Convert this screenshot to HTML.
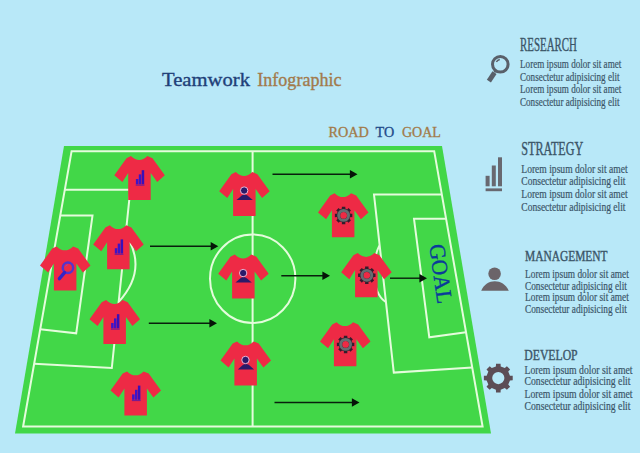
<!DOCTYPE html><html><head><meta charset="utf-8"><style>html,body{margin:0;padding:0;background:#b8e8f8;}svg{display:block}text{font-family:"Liberation Serif",serif}</style></head><body>
<svg width="640" height="453" viewBox="0 0 640 453">
<defs>
<path id="sh" fill="#ee2a45" d="M16.6 0.2Q24.9 8 33.1 0.2L38.2 2.4L50.5 19.4L42.9 26.3L36.4 17.2V44.3H13.9V17.2L8.1 26.3L0 19.4L12.2 2.4Z"/>
<g id="ib"><rect x="21.6" y="23.2" width="2.5" height="5.4" fill="#3d14c8"/><rect x="24.5" y="18.6" width="2.5" height="10" fill="#3d14c8"/><rect x="27.4" y="14.4" width="2.5" height="14.2" fill="#3a10b8"/><rect x="21.4" y="28.8" width="8.8" height="1.1" fill="#7a1a90"/></g>
<g id="im" fill="none"><circle cx="27.95" cy="21.55" r="5.2" stroke-width="2.5" stroke="#5434cc"/><path d="M24.5 26.4L19.4 32.4" stroke-width="3.4" stroke-linecap="round" stroke="#3424c4"/><path d="M25.6 20.2A3 3 0 0 1 27.6 18.6" stroke="#7a50e0" stroke-width="0.8"/></g>
<g id="ip"><path d="M17.3 28.2L22.6 23.6Q25.3 21.8 28.2 23.6L33.6 28.2Z" fill="#2a1a6a"/><circle cx="24.95" cy="18.75" r="3.7" fill="#2a1a6a" stroke="#f6bcd8" stroke-width="0.95"/></g>
<g id="ig"><path d="M32.39 20.71L34.33 20.66L34.33 24.14L32.39 24.09L31.60 26.01L33.00 27.34L30.54 29.80L29.21 28.40L27.29 29.19L27.34 31.13L23.86 31.13L23.91 29.19L21.99 28.40L20.66 29.80L18.20 27.34L19.60 26.01L18.81 24.09L16.87 24.14L16.87 20.66L18.81 20.71L19.60 18.79L18.20 17.46L20.66 15.00L21.99 16.40L23.91 15.61L23.86 13.67L27.34 13.67L27.29 15.61L29.21 16.40L30.54 15.00L33.00 17.46L31.60 18.79ZM29.0 22.4A3.4 3.4 0 1 0 22.200000000000003 22.4A3.4 3.4 0 1 0 29.0 22.4Z" fill="#341c2c" fill-rule="evenodd"/><circle cx="25.6" cy="22.4" r="4.95" fill="none" stroke="#666c70" stroke-width="2.9"/></g>
</defs>
<rect width="640" height="453" fill="#b8e8f8"/>
<path d="M64 146H442L491 433.5H15Z" fill="#42d748"/>
<g fill="none" stroke="#e4fcdc" stroke-width="2" stroke-linejoin="miter">
<path d="M71.6 151.2H434.2L482.6 426.5H23.1Z"/>
<path d="M252.6 151.2V426.5"/>
<ellipse cx="252.7" cy="278.7" rx="42.7" ry="44.2"/>
<path d="M64.8 189.8H130.3L111.8 368L34.2 363.8"/>
<path d="M60.3 215.6H92.5L76.2 333.3L40.2 329.3"/>
<path d="M129 240Q146 272 118.5 302"/>
<path d="M441.8 194.6H374L393.8 372.6L472.2 367.5"/>
<path d="M446.1 218.8H414L429.3 337.3L466 332.3"/>
<path d="M379.3 245.6C373 258 370 291 385.3 301.8"/>
</g>
<path d="M150 246.2H213.3" stroke="#08200c" stroke-width="1.4" fill="none"/><path d="M218.3 246.2L210.70000000000002 242.0V250.39999999999998Z" fill="#061408"/>
<path d="M148.8 323.3H212" stroke="#08200c" stroke-width="1.4" fill="none"/><path d="M217 323.3L209.4 319.1V327.5Z" fill="#061408"/>
<path d="M272.5 174.2H352.5" stroke="#08200c" stroke-width="1.4" fill="none"/><path d="M357.5 174.2L349.9 170.0V178.39999999999998Z" fill="#061408"/>
<path d="M281.3 275.8H325" stroke="#08200c" stroke-width="1.4" fill="none"/><path d="M330 275.8L322.4 271.6V280.0Z" fill="#061408"/>
<path d="M390 278.2H422" stroke="#08200c" stroke-width="1.4" fill="none"/><path d="M427 278.2L419.4 274.0V282.4Z" fill="#061408"/>
<path d="M274.5 402.5H354.5" stroke="#08200c" stroke-width="1.4" fill="none"/><path d="M359.5 402.5L351.9 398.3V406.7Z" fill="#061408"/>
<use href="#sh" x="114.3" y="155.8"/>
<use href="#ib" x="114.3" y="155.8"/>
<use href="#sh" x="93.2" y="225"/>
<use href="#ib" x="93.2" y="225"/>
<use href="#sh" x="40" y="246.2"/>
<use href="#im" x="40" y="246.2"/>
<use href="#sh" x="89.5" y="299.8"/>
<use href="#ib" x="89.5" y="299.8"/>
<use href="#sh" x="110.5" y="371.2"/>
<use href="#ib" x="110.5" y="371.2"/>
<use href="#sh" x="219.2" y="171.8"/>
<use href="#ip" x="219.2" y="171.8"/>
<use href="#sh" x="218.2" y="254.3"/>
<use href="#ip" x="218.2" y="254.3"/>
<use href="#sh" x="220.5" y="341.2"/>
<use href="#ip" x="220.5" y="341.2"/>
<use href="#sh" x="318" y="193"/>
<use href="#ig" x="318" y="193"/>
<use href="#sh" x="341.2" y="252.9"/>
<use href="#ig" x="341.2" y="252.9"/>
<use href="#sh" x="320" y="322"/>
<use href="#ig" x="320" y="322"/>
<text transform="translate(429.2,245.2) rotate(82)" font-size="22.5" fill="#0a3a9a" stroke="#0a3a9a" stroke-width="0.35" textLength="60" lengthAdjust="spacingAndGlyphs">GOAL</text>
<text x="162" y="85.7" font-size="18.3" fill="#1f3f78" stroke="#1f3f78" stroke-width="0.35" textLength="88" lengthAdjust="spacingAndGlyphs">Teamwork</text>
<text x="257.3" y="85.7" font-size="18.3" fill="#a27a4c" stroke="#a27a4c" stroke-width="0.35" textLength="84.2" lengthAdjust="spacingAndGlyphs">Infographic</text>
<text x="328.5" y="136.7" font-size="14.3" fill="#a27a48" stroke="#a27a48" stroke-width="0.3" textLength="40.3" lengthAdjust="spacingAndGlyphs">ROAD</text>
<text x="375.5" y="136.7" font-size="14.3" fill="#1f4a8a" stroke="#1f4a8a" stroke-width="0.3" textLength="18.7" lengthAdjust="spacingAndGlyphs">TO</text>
<text x="401.9" y="136.7" font-size="14.3" fill="#a27a48" stroke="#a27a48" stroke-width="0.3" textLength="39" lengthAdjust="spacingAndGlyphs">GOAL</text>
<text x="520" y="50.8" font-size="19" fill="#3b5568" stroke="#3b5568" stroke-width="0.4" textLength="57" lengthAdjust="spacingAndGlyphs">RESEARCH</text>
<text x="520" y="68" font-size="13" fill="#3b5568" stroke="#3b5568" stroke-width="0.22" textLength="101.3" lengthAdjust="spacingAndGlyphs">Lorem ipsum dolor sit amet</text><text x="520" y="80.8" font-size="13" fill="#3b5568" stroke="#3b5568" stroke-width="0.22" textLength="99.5" lengthAdjust="spacingAndGlyphs">Consectetur adipisicing elit</text><text x="520" y="93.3" font-size="13" fill="#3b5568" stroke="#3b5568" stroke-width="0.22" textLength="101.3" lengthAdjust="spacingAndGlyphs">Lorem ipsum dolor sit amet</text><text x="520" y="106.3" font-size="13" fill="#3b5568" stroke="#3b5568" stroke-width="0.22" textLength="99.5" lengthAdjust="spacingAndGlyphs">Consectetur adipisicing elit</text>
<text x="521.3" y="155" font-size="18.4" fill="#3b5568" stroke="#3b5568" stroke-width="0.4" textLength="62" lengthAdjust="spacingAndGlyphs">STRATEGY</text>
<text x="521.3" y="172.5" font-size="13" fill="#3b5568" stroke="#3b5568" stroke-width="0.22" textLength="106.3" lengthAdjust="spacingAndGlyphs">Lorem ipsum dolor sit amet</text><text x="521.3" y="184.5" font-size="13" fill="#3b5568" stroke="#3b5568" stroke-width="0.22" textLength="104.2" lengthAdjust="spacingAndGlyphs">Consectetur adipisicing elit</text><text x="521.3" y="198.3" font-size="13" fill="#3b5568" stroke="#3b5568" stroke-width="0.22" textLength="106.3" lengthAdjust="spacingAndGlyphs">Lorem ipsum dolor sit amet</text><text x="521.3" y="210.5" font-size="13" fill="#3b5568" stroke="#3b5568" stroke-width="0.22" textLength="104.2" lengthAdjust="spacingAndGlyphs">Consectetur adipisicing elit</text>
<text x="525" y="260.8" font-size="14.5" fill="#3b5568" stroke="#3b5568" stroke-width="0.4" textLength="82.5" lengthAdjust="spacingAndGlyphs">MANAGEMENT</text>
<text x="525" y="277.5" font-size="13" fill="#3b5568" stroke="#3b5568" stroke-width="0.22" textLength="103.8" lengthAdjust="spacingAndGlyphs">Lorem ipsum dolor sit amet</text><text x="525" y="289.5" font-size="13" fill="#3b5568" stroke="#3b5568" stroke-width="0.22" textLength="101.8" lengthAdjust="spacingAndGlyphs">Consectetur adipisicing elit</text><text x="525" y="300.8" font-size="13" fill="#3b5568" stroke="#3b5568" stroke-width="0.22" textLength="103.8" lengthAdjust="spacingAndGlyphs">Lorem ipsum dolor sit amet</text><text x="525" y="312.5" font-size="13" fill="#3b5568" stroke="#3b5568" stroke-width="0.22" textLength="101.8" lengthAdjust="spacingAndGlyphs">Consectetur adipisicing elit</text>
<text x="524.3" y="359.5" font-size="14.5" fill="#3b5568" stroke="#3b5568" stroke-width="0.4" textLength="53.3" lengthAdjust="spacingAndGlyphs">DEVELOP</text>
<text x="524.5" y="373.8" font-size="13" fill="#3b5568" stroke="#3b5568" stroke-width="0.22" textLength="108" lengthAdjust="spacingAndGlyphs">Lorem ipsum dolor sit amet</text><text x="524.5" y="385" font-size="13" fill="#3b5568" stroke="#3b5568" stroke-width="0.22" textLength="106" lengthAdjust="spacingAndGlyphs">Consectetur adipisicing elit</text><text x="524.5" y="398.3" font-size="13" fill="#3b5568" stroke="#3b5568" stroke-width="0.22" textLength="108" lengthAdjust="spacingAndGlyphs">Lorem ipsum dolor sit amet</text><text x="524.5" y="409.5" font-size="13" fill="#3b5568" stroke="#3b5568" stroke-width="0.22" textLength="106" lengthAdjust="spacingAndGlyphs">Consectetur adipisicing elit</text>
<g fill="none" stroke="#59606a"><circle cx="500.3" cy="64.3" r="7.8" stroke-width="3"/><path d="M495.6 70.6L494.4 72.4" stroke-width="2"/><path d="M494.5 72.6L488.9 81.1" stroke-width="4.9"/><path d="M496.4 62A4.6 4.6 0 0 1 499.8 59.4" stroke-width="1.5"/></g>
<g fill="#686870"><rect x="485.6" y="175.8" width="4" height="10.5"/><rect x="491.8" y="165.5" width="4" height="20.8"/><rect x="498" y="157.3" width="4" height="29"/><rect x="485.6" y="188.4" width="16.4" height="2.8"/></g>
<g fill="#6b6469"><circle cx="494.6" cy="273.8" r="6.3"/><path d="M481.2 290.8C486.5 278.2 503 278.2 508.8 290.8Z"/></g>
<path d="M509.95 375.64L512.72 375.77L512.72 380.33L509.95 380.46L508.25 384.58L510.11 386.63L506.88 389.86L504.83 388.00L500.71 389.70L500.58 392.47L496.02 392.47L495.89 389.70L491.77 388.00L489.72 389.86L486.49 386.63L488.35 384.58L486.65 380.46L483.88 380.33L483.88 375.77L486.65 375.64L488.35 371.52L486.49 369.47L489.72 366.24L491.77 368.10L495.89 366.40L496.02 363.63L500.58 363.63L500.71 366.40L504.83 368.10L506.88 366.24L510.11 369.47L508.25 371.52ZM504.40000000000003 378.05A6.1 6.1 0 1 0 492.2 378.05A6.1 6.1 0 1 0 504.40000000000003 378.05Z" fill="#5c4d56" fill-rule="evenodd"/>
</svg></body></html>
